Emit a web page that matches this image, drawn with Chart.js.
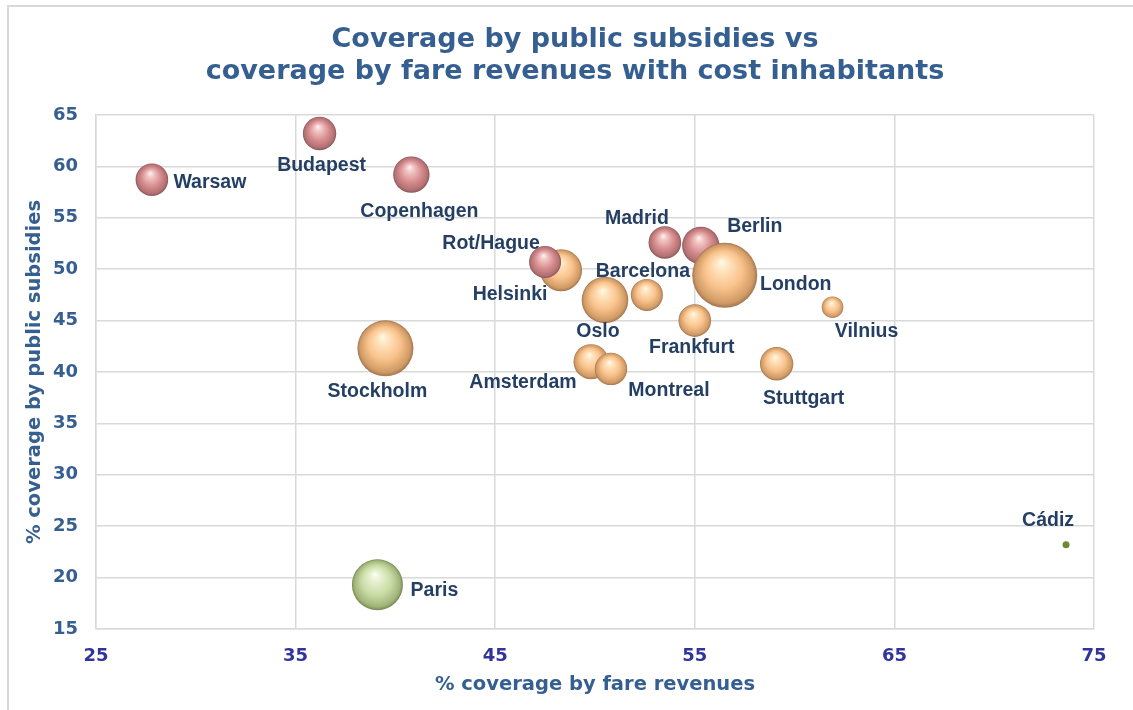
<!DOCTYPE html>
<html>
<head>
<meta charset="utf-8">
<script src="https://cdn.jsdelivr.net/npm/chart.js@4.4.1/dist/chart.umd.min.js"></script>
<style>
  html, body { margin: 0; padding: 0; background: #ffffff; }
  #wrap { position: relative; width: 1133px; height: 710px; }
</style>
</head>
<body>
<div id="wrap"><canvas id="c" width="1133" height="710"></canvas></div>
<script>
// ---- Data ----
const cities = ['Warsaw','Budapest','Copenhagen','Helsinki','Rot/Hague','Madrid','Berlin','London','Oslo','Barcelona','Frankfurt','Vilnius','Amsterdam','Montreal','Stuttgart','Stockholm','Paris','Cádiz'];
const fareCoverage = [27.8, 36.2, 40.8, 48.3, 47.5, 53.5, 55.3, 56.5, 50.5, 52.6, 55.0, 61.9, 49.8, 50.8, 59.1, 39.5, 39.1, 73.6];
const subsidyCoverage = [58.7, 63.2, 59.2, 49.9, 50.7, 52.6, 52.3, 49.4, 47.0, 47.5, 45.0, 46.3, 41.0, 40.3, 40.8, 42.3, 19.3, 23.2];
const inhabitants = [2.01, 2.11, 2.51, 3.34, 1.94, 2.01, 2.65, 8.0, 4.11, 1.94, 2.01, 0.88, 2.32, 1.99, 2.11, 5.94, 4.93, 0.093];
const groups = ['A','A','A','B','A','A','A','B','B','B','B','B','B','B','B','B','C','C'];
const xTicks = [25, 35, 45, 55, 65, 75];
const yTicks = [15, 20, 25, 30, 35, 40, 45, 50, 55, 60, 65];
const titleLines = ['Coverage by public subsidies vs', 'coverage by fare revenues with cost inhabitants'];

// ---- Styles ----
const sizeScale = 11.49;
const palette = {
  A: ['#fff4f2', '#f2c8c7', '#d98e90', '#b07072', '#8a5557'],
  B: ['#fffbe8', '#ffe4c0', '#f9c28b', '#d09a66', '#a27550'],
  C: ['#fbfff3', '#e8f2d3', '#c9dca5', '#a0b47a', '#76874f']
};
const smallFill = '#6b8a33';
const labelOffset = {
  'Warsaw':[58,3], 'Budapest':[2,32], 'Copenhagen':[8,37], 'Rot/Hague':[-54,-18],
  'Helsinki':[-51,24], 'Madrid':[-28,-24], 'Berlin':[54,-19], 'London':[71,9],
  'Barcelona':[-4,-23], 'Oslo':[-7,32], 'Frankfurt':[-3,27], 'Vilnius':[34,24],
  'Amsterdam':[-68,21], 'Montreal':[58,22], 'Stuttgart':[27,35], 'Stockholm':[-8,43],
  'Paris':[57,6], 'Cádiz':[-18,-24]
};
const titleColor = '#365f91';
const xTickColor = '#31349a';
const labelColor = '#243f63';
const gridColor = '#d9d9d9';
const fontMain = '"DejaVu Sans", Verdana, sans-serif';

const points = cities.map((c, i) => ({ x: fareCoverage[i], y: subsidyCoverage[i], r: sizeScale * Math.sqrt(inhabitants[i]) }));

function sphereFill(ctx) {
  const g = ctx.type === 'data' ? groups[ctx.dataIndex] : 'B';
  const cols = palette[g];
  if (ctx.type !== 'data') return cols[2];
  const chart = ctx.chart;
  const xs = chart.scales.x, ys = chart.scales.y;
  const raw = ctx.raw;
  if (!xs || !ys || !raw) return cols[2];
  const r = raw.r;
  if (r < 6) return smallFill;
  const cx = xs.getPixelForValue(raw.x), cy = ys.getPixelForValue(raw.y);
  if (!isFinite(cx) || !isFinite(cy) || !isFinite(r)) return cols[2];
  const grad = chart.ctx.createRadialGradient(cx - 0.1 * r, cy - 0.42 * r, 0, cx, cy, r);
  grad.addColorStop(0, cols[0]);
  grad.addColorStop(0.2, cols[1]);
  grad.addColorStop(0.58, cols[2]);
  grad.addColorStop(0.9, cols[3]);
  grad.addColorStop(1, cols[4]);
  return grad;
}

const framePlugin = {
  id: 'frame',
  beforeDraw(chart) {
    const c = chart.ctx;
    c.save();
    c.fillStyle = '#ffffff';
    c.fillRect(0, 0, chart.width, chart.height);
    c.fillStyle = '#d9d9d9';
    c.fillRect(7, 5, chart.width - 7, 2);
    c.fillRect(7, 5, 2, chart.height - 5);
    // title
    c.font = 'bold 27px ' + fontMain;
    c.fillStyle = titleColor;
    c.textAlign = 'center';
    c.textBaseline = 'middle';
    titleLines.forEach((t, i) => c.fillText(t, 575, 40 + i * 32));
    c.restore();
  }
};

const labelPlugin = {
  id: 'cityLabels',
  afterDatasetsDraw(chart) {
    const meta = chart.getDatasetMeta(0);
    const c = chart.ctx;
    c.save();
    c.font = 'bold 19.5px "Liberation Sans", Arial, sans-serif';
    c.fillStyle = labelColor;
    c.textAlign = 'center';
    c.textBaseline = 'middle';
    meta.data.forEach((el, i) => {
      const off = labelOffset[cities[i]] || [0, 0];
      c.fillText(cities[i], el.x + off[0], el.y + off[1]);
    });
    c.restore();
  }
};

new Chart(document.getElementById('c'), {
  type: 'bubble',
  data: {
    datasets: [{
      label: 'Cities',
      data: points,
      backgroundColor: sphereFill,
      borderWidth: 0,
      hoverBorderWidth: 0
    }]
  },
  options: {
    responsive: false,
    animation: false,
    events: [],
    layout: { padding: { top: 115, right: 39, bottom: 0, left: 0 } },
    plugins: {
      legend: { display: false },
      tooltip: { enabled: false },
      title: { display: false }
    },
    scales: {
      x: {
        type: 'linear',
        min: 25, max: 75,
        afterBuildTicks(scale) { scale.ticks = xTicks.map(v => ({ value: v })); },
        afterFit(scale) { scale.height = 81; },
        grid: { color: gridColor, lineWidth: 1.5, drawTicks: false },
        border: { color: gridColor, width: 1.5 },
        ticks: {
          padding: 17,
          color: xTickColor,
          font: { family: fontMain, size: 18, weight: 'bold' }
        },
        title: {
          display: true,
          text: '% coverage by fare revenues',
          color: titleColor,
          font: { family: fontMain, size: 19.5, weight: 'bold' },
          padding: { top: 0, bottom: 13 }
        }
      },
      y: {
        type: 'linear',
        min: 15, max: 65,
        afterBuildTicks(scale) { scale.ticks = yTicks.map(v => ({ value: v })); },
        afterFit(scale) { scale.width = 96; },
        grid: { color: gridColor, lineWidth: 1.5, drawTicks: false },
        border: { color: gridColor, width: 1.5 },
        ticks: {
          padding: 18,
          color: titleColor,
          font: { family: fontMain, size: 18, weight: 'bold' }
        },
        title: {
          display: true,
          text: '% coverage by public subsidies',
          color: titleColor,
          font: { family: fontMain, size: 19.5, weight: 'bold' },
          padding: { top: 23, bottom: 0 }
        }
      }
    }
  },
  plugins: [framePlugin, labelPlugin]
});
</script>
</body>
</html>
